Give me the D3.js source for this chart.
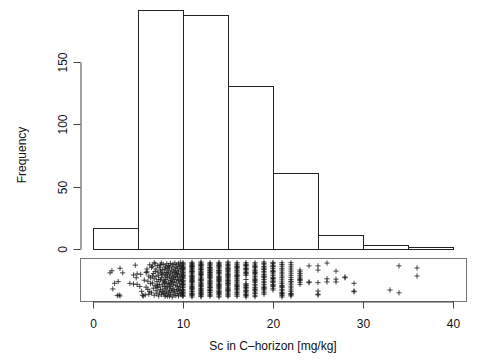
<!DOCTYPE html>
<html><head><meta charset="utf-8">
<script src="https://cdn.jsdelivr.net/npm/d3@7"></script>
<style>html,body{margin:0;padding:0;background:#fff}</style>
</head><body><svg id="c" width="504" height="360"></svg>
<script>
// ---- data ----
const binEdges = [0,5,10,15,20,25,30,35,40];
const binCounts = [17,192,188,131,61,11,3,2];
const yTicks = [0,50,100,150];
const xTicks = [0,10,20,30,40];
const xLabel = "Sc in C\u2013horizon [mg/kg]";
const yLabel = "Frequency";

// integer-valued observations (>= 10) and their vertical strip positions (0-100)
const intValues = [10,11,12,13,14,15,16,17,18,19,20,21,22,23,24,25,26,27,28,29,33,34,36];
const intJitter = [
 [2,5,9,14,18,22,27,31,35,40,44,47,52,55,59,63,66,70,74,78,81,85,88,92,95,98,12,37,61,83],
 [0,4,7,11,15,17,21,24,28,30,34,37,41,44,47,50,53,56,60,62,66,69,72,75,78,81,84,87,90,93,96,99,9,26,45,58,73,88],
 [1,3,6,10,13,16,20,23,25,29,33,36,39,42,46,49,51,54,57,61,64,67,70,73,77,80,83,86,89,91,94,97,100,8,31,48,65,79,92,19],
 [2,5,8,12,14,19,22,26,29,32,35,38,43,45,48,52,55,58,62,65,68,71,74,76,79,82,85,89,92,95,98,18,40,57,70,84,27,63],
 [0,3,7,10,13,17,20,24,27,30,33,37,40,44,46,50,53,57,59,63,67,70,72,76,80,83,86,90,93,96,99,15,35,55,75,88,48],
 [1,5,8,11,15,18,22,25,28,32,35,39,42,45,49,52,56,59,62,66,69,73,76,79,83,86,90,93,97,100,20,47,64,81,38],
 [2,6,9,13,17,21,24,28,33,36,40,43,47,51,54,58,62,65,69,72,76,80,83,87,91,94,98,30,60,85],
 [0,4,8,12,16,20,25,29,33,38,50,62,66,70,74,78,82,86,90,94,98,6,18,27,68,80,92,35],
 [1,5,10,14,18,23,27,32,36,41,45,50,54,58,63,67,72,76,80,85,89,94,98,21,47,70,87],
 [8,12,17,22,27,31,36,41,45,50,55,60,64,69,73,78,83,87,92,96,100,25,58,80],
 [20,25,30,36,41,46,51,56,61,66,71,76,81,86,91,96,99,33,53,73,88,44],
 [0,4,8,13,18,22,27,33,38,43,49,55,60,66,71,77,82,88,93,98,10,30],
 [3,6,10,15,20,26,31,37,43,50,56,62,68,74,80,86,92,98,8,45],
 [36,42,47,52,57,62,67,72,77,50],
 [89,43,41],
 [89,77,41,17,6,8],
 [97,52,43],
 [74,51,43],
 [57,55],
 [39,17,15],
 [20],
 [89,12],
 [83,60]
];

// decimal-valued observations (< 10) and their strip positions (0-100)
const lowValues = [
 1.9,2.1,3.0,3.3,2.4,2.8,2.2,2.7,2.9,3.0,4.7,4.5,4.9,4.1,4.5,4.9,4.8,
 5.2,5.4,5.6,5.8,5.9,6.0,6.1,6.2,6.3,6.4,5.5,5.7,6.0,6.2,6.4,5.3,5.9,6.1,6.3,6.5,
 6.5,6.6,6.6,6.7,6.7,6.8,6.8,6.9,6.9,7.0,7.0,7.0,7.1,7.1,7.2,7.2,7.2,7.3,7.3,7.4,7.4,7.4,7.5,7.5,7.5,7.6,7.6,7.6,7.7,7.7,7.7,7.8,7.8,7.8,7.9,7.9,7.9,8.0,8.0,8.0,6.6,6.9,7.1,7.3,7.5,7.7,7.9,6.8,7.2,7.6,
 8.0,8.0,8.0,8.0, 8.1,8.1,8.1,8.1,8.1, 8.2,8.2,8.2,8.2, 8.3,8.3,8.3,8.3,8.3, 8.4,8.4,8.4,8.4,
 8.5,8.5,8.5,8.5,8.5, 8.6,8.6,8.6,8.6,8.6, 8.7,8.7,8.7,8.7, 8.8,8.8,8.8,8.8,8.8, 8.9,8.9,8.9,8.9,8.9,
 9.0,9.0,9.0,9.0,9.0, 9.1,9.1,9.1,9.1, 9.2,9.2,9.2,9.2,9.2, 9.3,9.3,9.3,9.3, 9.4,9.4,9.4,9.4,9.4,
 9.5,9.5,9.5,9.5,9.5, 9.6,9.6,9.6,9.6, 9.7,9.7,9.7,9.7,9.7, 9.8,9.8,9.8,9.8, 9.9,9.9,9.9,9.9,9.9
];
const lowJitter = [
 69,75,82,69,39,44,23,4,6,3,91,63,66,39,37,36,55,
 30,16,3,6,70,72,22,60,92,38,5,48,80,8,55,65,28,45,15,85,
 12,40,88,25,67,5,52,33,95,18,58,80,44,9,71,27,90,3,62,36,85,14,49,75,22,97,7,55,31,78,64,11,46,93,20,69,38,2,83,57,60,73,29,50,92,16,42,98,35,68,
 10,45,78,30, 62,5,88,25,50, 15,70,38,95, 55,2,82,28,65, 40,90,12,74,
 20,58,85,35,3, 68,8,47,96,30, 52,18,77,40, 0,63,88,25,45, 72,14,55,93,35,
 6,42,80,60,22, 50,97,15,70, 33,85,4,58,75, 20,67,43,92, 10,55,82,30,65,
 47,3,95,72,22, 60,18,38,87, 8,77,50,28,99, 45,66,13,90, 35,80,5,57,20
];

// ---- drawing ----
const svg = d3.select("#c");
const font = "'Liberation Sans', Arial, Helvetica, sans-serif";
svg.append("rect").attr("width",504).attr("height",360).attr("fill","#fff");

const x = d3.scaleLinear().domain([0,40]).range([93,453]);
const y = d3.scaleLinear().domain([0,150]).range([249,62]);
const yS = d3.scaleLinear().domain([0,100]).range([297,262]);

const bins = binCounts.map((c,i)=>({x0:binEdges[i], x1:binEdges[i+1], n:c}));
svg.append("g").selectAll("rect").data(bins).join("rect")
  .attr("x", d=>Math.round(x(d.x0))+0.5)
  .attr("width", d=>Math.round(x(d.x1))-Math.round(x(d.x0)))
  .attr("y", d=>Math.round(y(d.n))+0.5)
  .attr("height", d=>Math.round(y(0))-Math.round(y(d.n)))
  .attr("fill","none").attr("stroke","#222").attr("stroke-width",1);

// y axis
const yAxis = svg.append("g").attr("transform","translate(80.5,0)")
  .call(d3.axisLeft(y).tickValues(yTicks).tickSize(7).tickSizeOuter(0).tickFormat(d3.format("d")));
yAxis.select(".domain").attr("stroke","#444");
yAxis.selectAll(".tick line").attr("stroke","#444");
yAxis.selectAll(".tick").attr("transform", d=>"translate(0,"+(Math.round(y(d))+0.5)+")");
yAxis.selectAll(".tick text")
  .attr("font-family",font).attr("font-size",12).attr("fill","#111")
  .attr("transform","rotate(-90)")
  .attr("x",0).attr("y",-14).attr("dy",0)
  .attr("text-anchor","middle");

svg.append("text").attr("transform","translate(26,155) rotate(-90)")
  .attr("text-anchor","middle").attr("font-family",font).attr("font-size",12)
  .attr("fill","#111").text(yLabel);

// strip box
svg.append("rect").attr("x",80.5).attr("y",258.5).attr("width",386).attr("height",43)
  .attr("fill","none").attr("stroke","#777").attr("stroke-width",1);

// strip points
const pts = [];
intValues.forEach((v,i)=>intJitter[i].forEach(j=>pts.push([v,j])));
lowValues.forEach((v,i)=>pts.push([v,lowJitter[i]]));
svg.append("g").selectAll("path").data(pts).join("path")
  .attr("transform", d=>`translate(${x(d[0])},${yS(d[1])})`)
  .attr("d","M-2.6,0H2.6M0,-2.6V2.6")
  .attr("stroke","#1a1a1a").attr("stroke-width",0.8).attr("fill","none");

// bottom axis
const xAxis = svg.append("g").attr("transform","translate(0,301.5)")
  .call(d3.axisBottom(x).tickValues(xTicks).tickSize(7).tickSizeOuter(0).tickFormat(d3.format("d")));
xAxis.select(".domain").attr("stroke","#444");
xAxis.selectAll(".tick line").attr("stroke","#444");
xAxis.selectAll(".tick").attr("transform", d=>`translate(${Math.round(x(d))+0.5},0)`);
xAxis.selectAll(".tick text").attr("font-family",font).attr("font-size",12).attr("fill","#111")
  .attr("y",18).attr("dy","0.71em");

svg.append("text").attr("x",(x(0)+x(40))/2).attr("y",350)
  .attr("text-anchor","middle").attr("font-family",font).attr("font-size",12)
  .attr("fill","#111").text(xLabel);
</script></body></html>
